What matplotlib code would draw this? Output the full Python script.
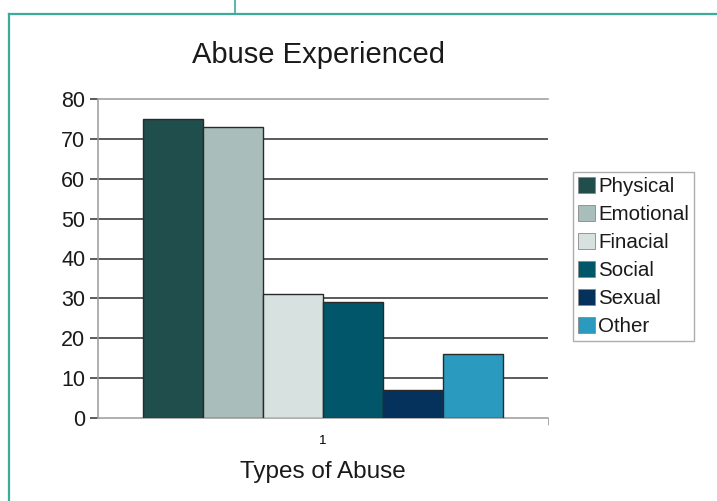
import matplotlib
matplotlib.use("Agg")
import matplotlib.pyplot as plt
from matplotlib.lines import Line2D
from matplotlib.patches import Patch

plt.rcParams['font.family'] = ['Liberation Sans', 'DejaVu Sans']

categories = ["Physical", "Emotional", "Finacial", "Social", "Sexual", "Other"]
values = [75, 73, 31, 29, 7, 16]
colors = ["#1F4E4C", "#A9BDBA", "#D7E1E0", "#02566A", "#04325C", "#2A9ABF"]
yticks = [0, 10, 20, 30, 40, 50, 60, 70, 80]
group_label = "1"

fig = plt.figure(figsize=(7.17, 5.01), dpi=100)
W, H = 717, 501
ax = fig.add_axes([98 / W, (H - 418) / H, (548 - 98) / W, (418 - 99) / H])

# teal frame lines around the panel
frame_c = "#3AAC98"
fig.add_artist(Line2D([8.5 / W, 8.5 / W], [0, (H - 13.5) / H], color=frame_c, lw=1.6,
                      transform=fig.transFigure))
fig.add_artist(Line2D([8.5 / W, 1.0], [(H - 13.5) / H, (H - 13.5) / H], color=frame_c, lw=1.6,
                      transform=fig.transFigure))
fig.add_artist(Line2D([235 / W, 235 / W], [(H - 13.5) / H, 1.0], color=frame_c, lw=1.2,
                      transform=fig.transFigure))

# horizontal gridlines
for t in yticks[1:-1]:
    ax.axhline(t, color="#2e2e2e", lw=1.1, zorder=1)

n = len(values)
w = 0.8 / n
for i, (v, c) in enumerate(zip(values, colors)):
    x = 0.5 + (i - (n - 1) / 2) * w
    ax.bar(x, v, width=w, color=c, edgecolor="#2a2a2a", linewidth=1.0, zorder=3)

ax.set_xlim(0, 1)
ax.set_ylim(0, 80)
ax.set_yticks(yticks)
ax.set_yticklabels([str(t) for t in yticks], fontsize=15.5, color="#1a1a1a")
ax.tick_params(axis="y", direction="out", length=6, width=1.1, color="#2e2e2e", pad=3)
for tl, t in zip(ax.yaxis.get_ticklines(), [t for t in yticks for _ in (0, 1)]):
    if t in (0, 80):
        tl.set_color("#999999")

ax.set_xticks([0.5])
ax.set_xticklabels([group_label], fontsize=9.5)
ax.tick_params(axis="x", length=0, pad=12)
ax.set_xticks([1], minor=True)
ax.tick_params(axis="x", which="minor", direction="out", length=5, color="#999999")

for s in ["left", "bottom", "top"]:
    ax.spines[s].set_color("#9a9a9a")
    ax.spines[s].set_linewidth(1.1)
ax.spines["right"].set_visible(False)

ax.set_xlabel("Types of Abuse", fontsize=17.5, labelpad=10, color="#1a1a1a")
fig.text(318 / W, (H - 55) / H, "Abuse Experienced", fontsize=21, ha="center", va="center",
         color="#1a1a1a")

handles = [Patch(facecolor=c, edgecolor="#888888", linewidth=0.6) for c in colors]
leg = fig.legend(handles, categories, loc="upper left",
                 bbox_to_anchor=(573 / W, (H - 172) / H), fontsize=14.8,
                 frameon=True, fancybox=False, handlelength=0.85, handleheight=0.85,
                 handletextpad=0.15, labelspacing=0.42, borderpad=0.24, borderaxespad=0)
leg.get_frame().set_edgecolor("#999999")
leg.get_frame().set_linewidth(1.0)
for txt in leg.get_texts():
    txt.set_color("#1a1a1a")

fig.savefig("out.png", dpi=100)
